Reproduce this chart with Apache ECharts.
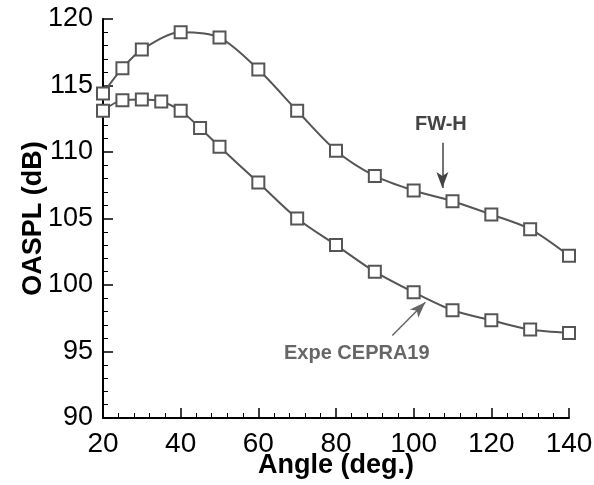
<!DOCTYPE html>
<html>
<head>
<meta charset="utf-8">
<script src="https://cdn.jsdelivr.net/npm/echarts@6/dist/echarts.min.js"></script>
<style>
  html, body { margin: 0; padding: 0; background: #fff; }
  #chart { width: 594px; height: 485px; }
</style>
</head>
<body>
<div id="chart"></div>
<script>
// FW-H prediction
const fwhAngle = [20, 25, 30, 40, 50, 60, 70, 80, 90, 100, 110, 120, 130, 140];
const fwhLevel = [114.4, 116.3, 117.7, 119.0, 118.6, 116.2, 113.1, 110.1, 108.2, 107.1, 106.3, 105.3, 104.2, 102.2];

// Experiment CEPRA19
const expAngle = [20, 25, 30, 35, 40, 45, 50, 60, 70, 80, 90, 100, 110, 120, 130, 140];
const expLevel = [113.1, 113.9, 113.95, 113.8, 113.1, 111.8, 110.4, 107.7, 105.0, 103.0, 101.0, 99.45, 98.1, 97.35, 96.65, 96.4];

// arrows: [start, end] in data coords
const fwhArrow = [[107.4, 110.7], [107.4, 107.3]];
const expArrow = [[94.5, 96.2], [103, 98.7]];

const pair = (xs, ys) => xs.map((x, i) => [x, ys[i]]);

const myChart = echarts.init(document.getElementById('chart'));

const lineColor = '#555';
const font = 'Liberation Sans, Arial, Helvetica, sans-serif';

function seriesOf(name, data, arrow, arrowColor) {
    return {
        name: name,
        type: 'line',
        data: data,
        smooth: 0.3,
        symbol: 'rect',
        symbolSize: 12,
        lineStyle: { color: lineColor, width: 2 },
        itemStyle: { color: '#fff', borderColor: lineColor, borderWidth: 2 },
        z: 3,
        markLine: {
            silent: true,
            symbol: ['none', 'arrow'],
            symbolSize: [9, 16],
            label: { show: false },
            lineStyle: { color: arrowColor, width: 1.5, type: 'solid' },
            data: [[{ coord: arrow[0] }, { coord: arrow[1] }]]
        }
    };
}

let option = {
    animation: false,
    backgroundColor: '#fff',
    grid: { left: 103, right: 25, top: 19, bottom: 67, outerBoundsMode: 'none', containLabel: false },
    xAxis: {
        type: 'value',
        min: 20, max: 140, interval: 20,
        name: 'Angle (deg.)',
        nameLocation: 'middle',
        nameGap: 34,
        nameMoveOverlap: false,
        nameTextStyle: { fontFamily: font, fontSize: 27, fontWeight: 'bold', color: '#000' },
        axisLine: { show: true, lineStyle: { color: '#000', width: 2 } },
        axisTick: { show: true, inside: true, length: 10, lineStyle: { color: '#000', width: 1.5 } },
        minorTick: { show: true, splitNumber: 5, length: 5, lineStyle: { color: '#000', width: 1 } },
        axisLabel: { fontFamily: font, fontSize: 28, color: '#000', margin: 12 },
        splitLine: { show: false }
    },
    yAxis: {
        type: 'value',
        min: 90, max: 120, interval: 5,
        name: 'OASPL (dB)',
        nameLocation: 'middle',
        nameGap: 56,
        nameMoveOverlap: false,
        nameTextStyle: { fontFamily: font, fontSize: 27, fontWeight: 'bold', color: '#000' },
        axisLine: { show: true, lineStyle: { color: '#000', width: 2 } },
        axisTick: { show: true, inside: true, length: 10, lineStyle: { color: '#000', width: 1.5 } },
        minorTick: { show: true, splitNumber: 5, length: 5, lineStyle: { color: '#000', width: 1 } },
        axisLabel: { fontFamily: font, fontSize: 27, color: '#000', margin: 10 },
        splitLine: { show: false }
    },
    series: [
        seriesOf('FW-H', pair(fwhAngle, fwhLevel), fwhArrow, '#444'),
        seriesOf('Expe CEPRA19', pair(expAngle, expLevel), expArrow, '#666')
    ],
    graphic: [
        {
            type: 'text', left: 415, top: 114, z: 10,
            style: { text: 'FW-H', fontFamily: font, fontSize: 20, fontWeight: 'bold', fill: '#444' }
        },
        {
            type: 'text', left: 284, top: 343, z: 10,
            style: { text: 'Expe CEPRA19', fontFamily: font, fontSize: 20, fontWeight: 'bold', fill: '#666' }
        }
    ]
};

myChart.setOption(option);
</script>
</body>
</html>
